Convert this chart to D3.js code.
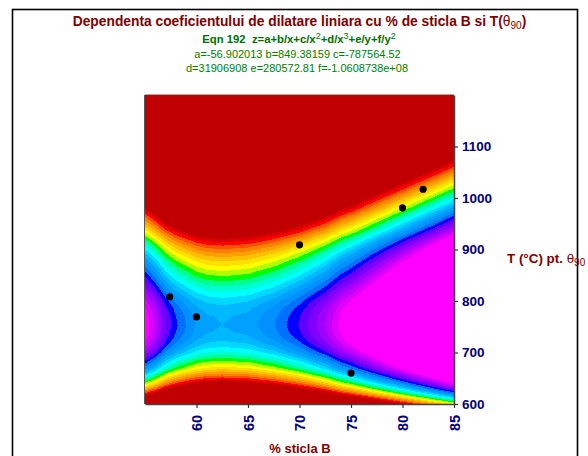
<!DOCTYPE html>
<html>
<head>
<meta charset="utf-8">
<script src="https://cdn.jsdelivr.net/npm/d3@7"></script>
<style>
  body { margin: 0; background: #fff; }
  svg { display: block; font-family: "Liberation Sans", Arial, sans-serif; }
</style>
</head>
<body>
<div id="chart"></div>
<script>
// Colour band number: along a column near the saddle and
// along the saddle row. Band 16 is the light blue at the saddle.
const xStops = [55, 56, 57, 58, 59, 60, 61, 62.5, 65, 67.5, 70, 72.5, 74, 75, 77.5, 80, 82.5, 85];
const bandAlongX = [26, 23.7, 21, 19.2, 18, 16.9, 16.3, 16, 16.45, 17.9, 20.1, 23, 25.4, 26.6, 30.3, 34, 37.7, 41.5];

const yStops = [600, 610, 620, 630, 640, 650, 660, 670, 680, 690, 700, 710, 720, 730, 740, 753,
  770, 785, 800, 815, 830, 845, 860, 875, 890, 905, 920, 940, 960, 980, 1000, 1020, 1040, 1060, 1080, 1100, 1200];
const bandAlongY = [-33, -28.1, -23.5, -19.6, -16.3, -13.4, -10.8, -8.4, -6.7, -4.9, -3.3, -2.1, -1.2, -0.55, -0.2, 0,
  -0.17, -0.65, -1.5, -2.8, -4.2, -5.7, -7.2, -8.8, -10.6, -12.6, -14.9, -18.3, -21.5, -24.9, -28.2, -31.6, -35, -38.4, -41.8, -45, -60];

// Band colours, dark red (below band 1) up to magenta
const bandColors = ["#c00000", "#d80000", "#ff0000", "#ff5000", "#ff8000", "#ffa000", "#ffc000", "#ffe000",
  "#ffff00", "#b0ff00", "#00ff00", "#00ff90", "#00ffd0", "#00ffff", "#00d8ff", "#00b8ff", "#00a0ff",
  "#0090ff", "#0070ff", "#0000ff", "#6000ff", "#8000ff", "#a000ff", "#c000ff", "#e000ff", "#ff00ff"];

// Measured points
const pointsX = [57.4, 60, 70, 75, 80, 82];
const pointsY = [808, 769, 909, 660, 981, 1017];

const xTicks = [60, 65, 70, 75, 80, 85];
const yTicks = [600, 700, 800, 900, 1000, 1100];

const darkRed = "#800000";
const green = "#006f00";
const navy = "#000080";

const width = 588, height = 456;
const margin = {top: 95, right: 134, bottom: 52, left: 145};

const svg = d3.select("#chart").append("svg")
    .attr("width", width)
    .attr("height", height);

// Outer frame, runs off the bottom of the picture
svg.append("rect")
    .attr("x", 12.5).attr("y", 9.5)
    .attr("width", 565).attr("height", 460)
    .attr("fill", "#fff")
    .attr("stroke", "#000")
    .attr("stroke-width", 1.6);

const x = d3.scaleLinear().domain([55, 85]).range([margin.left, width - margin.right]);
const y = d3.scaleLinear().domain([600, 1200]).range([height - margin.bottom, margin.top]);

// Contour coordinates to data values, d3.contours puts grid values at i + 0.5
const colToX = d3.scaleLinear().domain(xStops.map((d, i) => i + 0.5)).range(xStops).clamp(true);
const rowToY = d3.scaleLinear().domain(yStops.map((d, i) => i + 0.5)).range(yStops).clamp(true);

const grid = [];
yStops.forEach((yv, j) => {
  xStops.forEach((xv, i) => {
    grid.push(bandAlongX[i] + bandAlongY[j]);
  });
});

const contours = d3.contours()
    .size([xStops.length, yStops.length])
    .thresholds(d3.range(1, bandColors.length))(grid);

const path = d3.geoPath(d3.geoTransform({
  point: function(cx, cy) {
    this.stream.point(x(colToX(cx)), y(rowToY(cy)));
  }
}));

const plot = svg.append("g");

plot.append("rect")
    .attr("x", x(55)).attr("y", y(1200))
    .attr("width", x(85) - x(55)).attr("height", y(600) - y(1200))
    .attr("fill", bandColors[0]);

plot.selectAll("path")
    .data(contours)
    .enter().append("path")
    .attr("d", path)
    .attr("fill", function(d) { return bandColors[d.value]; })
    .attr("shape-rendering", "crispEdges");

// Points
plot.selectAll("circle")
    .data(pointsX)
    .enter().append("circle")
    .attr("cx", function(d) { return x(d); })
    .attr("cy", function(d, i) { return y(pointsY[i]); })
    .attr("r", 3.6)
    .attr("fill", "#000");

// Plot border
svg.append("line").attr("x1", x(55)).attr("x2", x(85)).attr("y1", y(1200) - 0.5).attr("y2", y(1200) - 0.5).attr("stroke", "#aaa");
svg.append("line").attr("x1", x(55) - 0.5).attr("x2", x(55) - 0.5).attr("y1", y(1200)).attr("y2", y(600)).attr("stroke", "#555");

// Axes
const xAxis = svg.append("g")
    .attr("transform", "translate(0," + y(600) + ")")
    .call(d3.axisBottom(x).tickValues(xTicks).tickSize(4).tickSizeOuter(0).tickFormat(d3.format("d")));

const yAxis = svg.append("g")
    .attr("transform", "translate(" + x(85) + ",0)")
    .call(d3.axisRight(y).tickValues(yTicks).tickSize(4).tickSizeOuter(0).tickPadding(4).tickFormat(d3.format("d")));

[xAxis, yAxis].forEach(function(a) {
  a.selectAll(".domain").attr("stroke", "#444").attr("stroke-width", 1.5);
  a.selectAll(".tick line").attr("stroke", "#333").attr("stroke-width", 1.2);
  a.selectAll("text")
      .attr("fill", navy)
      .attr("font-family", "'Liberation Sans', Arial, sans-serif")
      .attr("font-weight", "bold");
});

yAxis.selectAll("text").attr("font-size", 13.5);

xAxis.selectAll("text")
    .attr("font-size", 14.5)
    .attr("text-anchor", "middle")
    .attr("dy", null)
    .attr("dominant-baseline", "central")
    .attr("transform", "translate(0,19) rotate(-90)")
    .attr("y", 0)
    .attr("x", 0);

// Titles
const title = svg.append("text")
    .attr("x", 299.5).attr("y", 25.5)
    .attr("text-anchor", "middle")
    .attr("fill", darkRed)
    .attr("font-size", 13.8)
    .attr("font-weight", "bold");
title.append("tspan").text("Dependenta coeficientului de dilatare liniara cu % de sticla B si T(");
title.append("tspan").attr("font-weight", "normal").text("θ");
title.append("tspan").attr("font-weight", "normal").attr("font-size", 10).attr("dy", 3).text("90");
title.append("tspan").attr("dy", -3).text(")");

const eqn = svg.append("text")
    .attr("x", 299).attr("y", 43)
    .attr("text-anchor", "middle")
    .attr("fill", green)
    .attr("font-size", 11.3)
    .attr("font-weight", "bold")
    .attr("xml:space", "preserve");
eqn.append("tspan").text("Eqn 192  z=a+b/x+c/x");
eqn.append("tspan").attr("font-size", 9).attr("font-weight", "normal").attr("dy", -4).text("2");
eqn.append("tspan").attr("dy", 4).text("+d/x");
eqn.append("tspan").attr("font-size", 9).attr("font-weight", "normal").attr("dy", -4).text("3");
eqn.append("tspan").attr("dy", 4).text("+e/y+f/y");
eqn.append("tspan").attr("font-size", 9).attr("font-weight", "normal").attr("dy", -4).text("2");

svg.append("text")
    .attr("x", 297.5).attr("y", 58)
    .attr("text-anchor", "middle")
    .attr("fill", "#008000")
    .attr("font-size", 11)
    .text("a=-56.902013 b=849.38159 c=-787564.52");

svg.append("text")
    .attr("x", 297).attr("y", 72)
    .attr("text-anchor", "middle")
    .attr("fill", "#008000")
    .attr("font-size", 11)
    .text("d=31906908 e=280572.81 f=-1.0608738e+08");

const yLabel = svg.append("text")
    .attr("x", 507).attr("y", 263)
    .attr("fill", darkRed)
    .attr("font-size", 13.4)
    .attr("font-weight", "bold");
yLabel.append("tspan").text("T (°C) pt. ");
yLabel.append("tspan").attr("font-weight", "normal").text("θ");
yLabel.append("tspan").attr("font-weight", "normal").attr("font-size", 10).attr("dy", 3).text("90");

svg.append("text")
    .attr("x", 300).attr("y", 453)
    .attr("text-anchor", "middle")
    .attr("fill", darkRed)
    .attr("font-size", 13)
    .attr("font-weight", "bold")
    .text("% sticla B");
</script>
</body>
</html>
